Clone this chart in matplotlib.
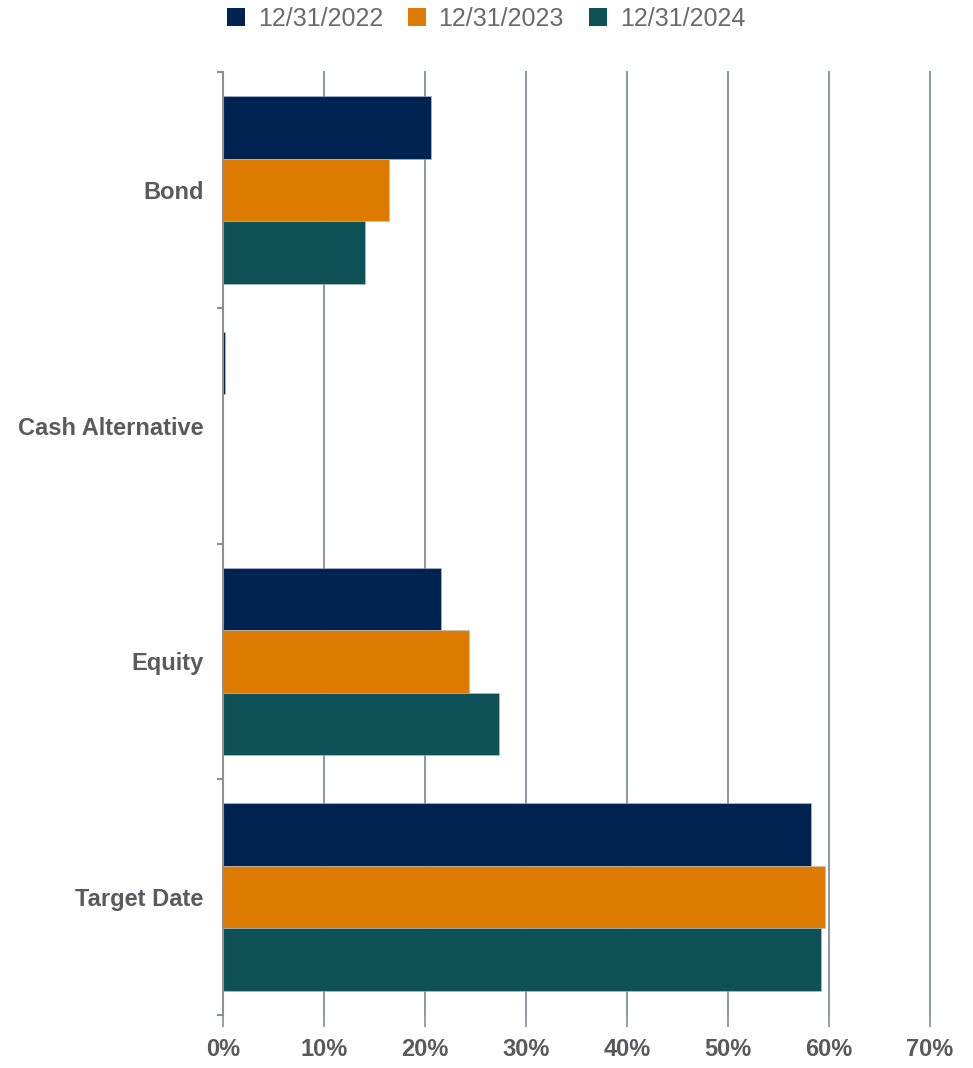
import matplotlib
matplotlib.use("Agg")
import matplotlib.pyplot as plt
import numpy as np
from matplotlib.patches import Patch

categories = ["Bond", "Cash Alternative", "Equity", "Target Date"]
series_labels = ["12/31/2022", "12/31/2023", "12/31/2024"]
values_2022 = [20.6, 0.2, 21.6, 58.2]
values_2023 = [16.4, 0.0, 24.4, 59.6]
values_2024 = [14.1, 0.0, 27.3, 59.2]
x_ticks = [0, 10, 20, 30, 40, 50, 60, 70]
x_tick_labels = ["0%", "10%", "20%", "30%", "40%", "50%", "60%", "70%"]

colors = ["#002352", "#DD7A00", "#0E5257"]
grid_color = "#8C97A2"
text_color = "#5A5A5E"

plt.rcParams["font.family"] = ["Liberation Sans", "DejaVu Sans"]

fig = plt.figure(figsize=(9.73, 10.68), dpi=100)
ax = fig.add_axes([223 / 973, 53 / 1068, 707 / 973, 943 / 1068])

y = np.arange(len(categories))
bar_h = 0.265
series = [values_2022, values_2023, values_2024]
for i, (vals, col) in enumerate(zip(series, colors)):
    ax.barh(y + (i - 1) * bar_h, vals, height=bar_h, color=col,
            edgecolor="#B8C4CE", linewidth=0.4, zorder=3)

ax.set_xlim(0, 70)
ax.set_ylim(len(categories) - 0.5, -0.5)

# vertical grid lines
for xv in x_ticks[1:]:
    ax.axvline(xv, color=grid_color, lw=1.4, zorder=1, clip_on=False)

for s in ["top", "right", "bottom"]:
    ax.spines[s].set_visible(False)
ax.spines["left"].set_color("#8F8F8F")
ax.spines["left"].set_linewidth(1.5)
ax.spines["left"].set_zorder(4)

ax.set_yticks(y)
ax.set_yticklabels(categories, fontsize=17, fontweight="bold", color=text_color)
ax.tick_params(axis="y", which="major", length=0, pad=14)
ax.set_yticks(np.arange(-0.5, len(categories)), minor=True)
ax.tick_params(axis="y", which="minor", length=4.5, width=1.5, color="#8F8F8F")

ax.set_xticks(x_ticks)
ax.set_xticklabels(x_tick_labels, fontsize=17, fontweight="bold", color=text_color)
ax.tick_params(axis="x", length=8.5, width=1.3, color=grid_color, pad=8)

handles = [Patch(facecolor=c, edgecolor="none") for c in colors]
fig.legend(handles, series_labels, loc="center", bbox_to_anchor=(486 / 973, 1 - 19 / 1068),
           ncol=3, frameon=False, fontsize=18, labelcolor="#6A6A6E",
           handlelength=0.73, handleheight=0.73, handletextpad=0.5, columnspacing=1.0,
           borderpad=0)

fig.savefig("out.png", dpi=100)
